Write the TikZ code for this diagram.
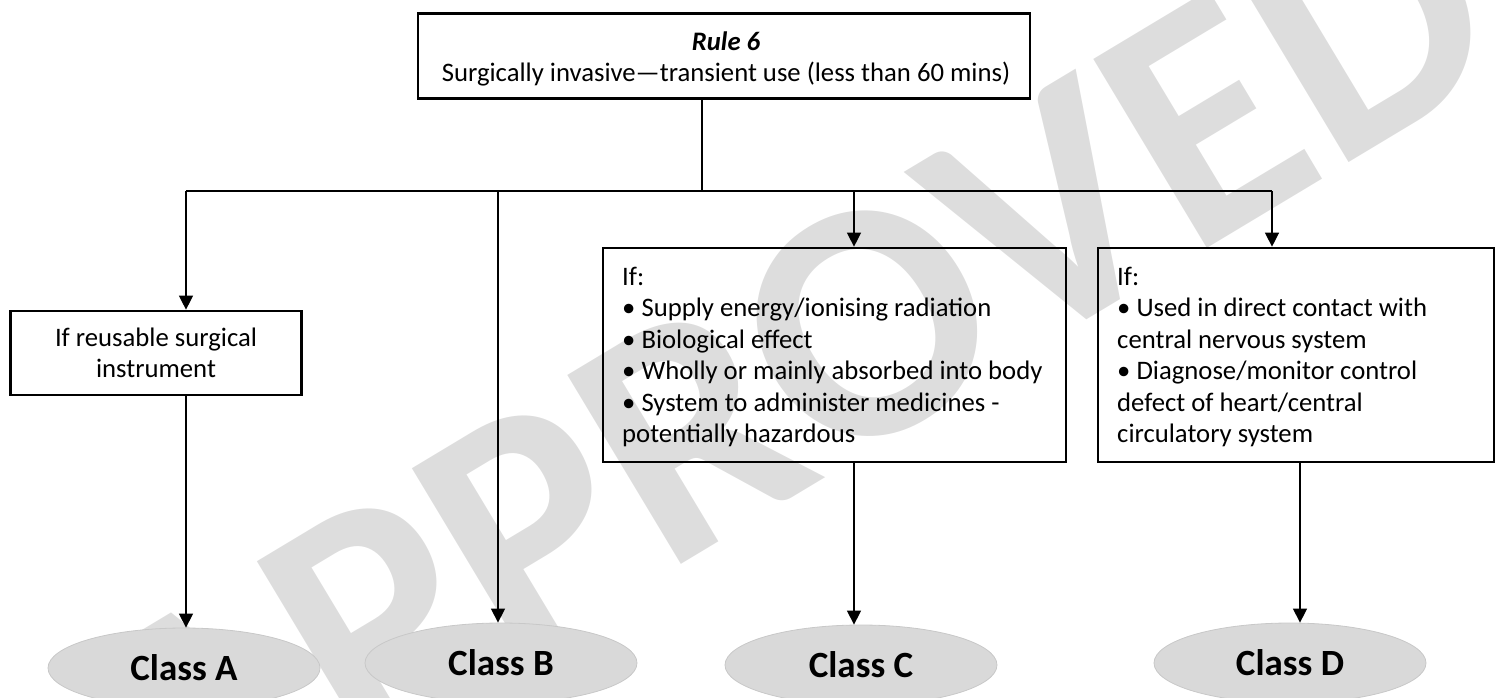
\documentclass[tikz,border=0pt]{standalone}
\usepackage{fontspec}
\setmainfont{Carlito}
\usetikzlibrary{arrows.meta,shapes.geometric}
\definecolor{wmgray}{HTML}{DDDDDD}
\definecolor{ellfill}{HTML}{D9D9D9}
\definecolor{ellline}{HTML}{C8C8C8}
\tikzset{
  box/.style={draw=black, line width=2.7pt, rectangle, inner sep=0pt},
  conn/.style={draw=black, line width=1.3pt},
  arr/.style={conn, -{Triangle[width=14pt,length=14pt]}},
  cls/.style={ellipse, fill=ellfill, draw=ellline, line width=0.8pt, minimum width=272pt, minimum height=80pt, inner sep=0pt, font=\fontsize{37}{44}\selectfont\bfseries},
  body/.style={font=\fontsize{26.7}{31.4}\selectfont, inner sep=0pt},
  wmark/.style={text=wmgray, rotate=31, inner sep=0pt, font=\fontsize{340}{340}\selectfont\bfseries}
}
\begin{document}
\begin{tikzpicture}[x=1pt,y=-1pt]
\useasboundingbox (0,0) rectangle (1496,697);
\begin{scope}
\clip (0,0) rectangle (1496,697);
% watermark
\node[wmark] (wm) at (790,370) {APPROVED};
% boxes
\node[box, minimum width=612pt, minimum height=85pt] (top) at (724,56) {};
\node[body, align=center] (toptxt) at (726,59) {\textbf{\textit{Rule 6}}\\Surgically invasive—transient use (less than 60 mins)};
\node[box, minimum width=291pt, minimum height=84pt, body, align=center] (boxa) at (156,353) {If reusable surgical\\instrument};
\node[box, minimum width=463pt, minimum height=214pt] (boxc) at (834.5,355) {};
\node[box, minimum width=396pt, minimum height=214pt] (boxd) at (1296,355) {};
\node[body, align=left, anchor=north west] (txtc) at (622,267) {If:\\\textbullet\ Supply energy/ionising radiation\\\textbullet\ Biological effect\\\textbullet\ Wholly or mainly absorbed into body\\\textbullet\ System to administer medicines -\\potentially hazardous};
\node[body, align=left, anchor=north west] (txtd) at (1117,267) {If:\\\textbullet\ Used in direct contact with\\central nervous system\\\textbullet\ Diagnose/monitor control\\defect of heart/central\\circulatory system};
% ellipses
\node[cls] (ca) at (184,668) {Class A};
\node[cls] (cb) at (501,663) {Class B};
\node[cls] (cc) at (861,665) {Class C};
\node[cls] (cd) at (1290,663) {Class D};
% junction coordinates
\coordinate (jt) at (702,191);
\coordinate (ja) at (186,191);
\coordinate (jb) at (498,191);
\coordinate (jc) at (854,191);
\coordinate (jd) at (1272,191);
\coordinate (lc) at (854,462);
\coordinate (ld) at (1300,462);
% connectors
\draw[conn] (jt |- top.south) -- (jt);
\draw[conn] (ja) -- (jd);
\draw[arr] (ja) -- (ja |- boxa.north);
\draw[arr] (ja |- boxa.south) -- (ja |- ca.north);
\draw[arr] (jb) -- (jb |- cb.north);
\draw[arr] (jc) -- (jc |- boxc.north);
\draw[arr] (lc |- boxc.south) -- (lc |- cc.north);
\draw[arr] (jd) -- (jd |- boxd.north);
\draw[arr] (ld |- boxd.south) -- (ld |- cd.north);
\end{scope}
\end{tikzpicture}
\end{document}
